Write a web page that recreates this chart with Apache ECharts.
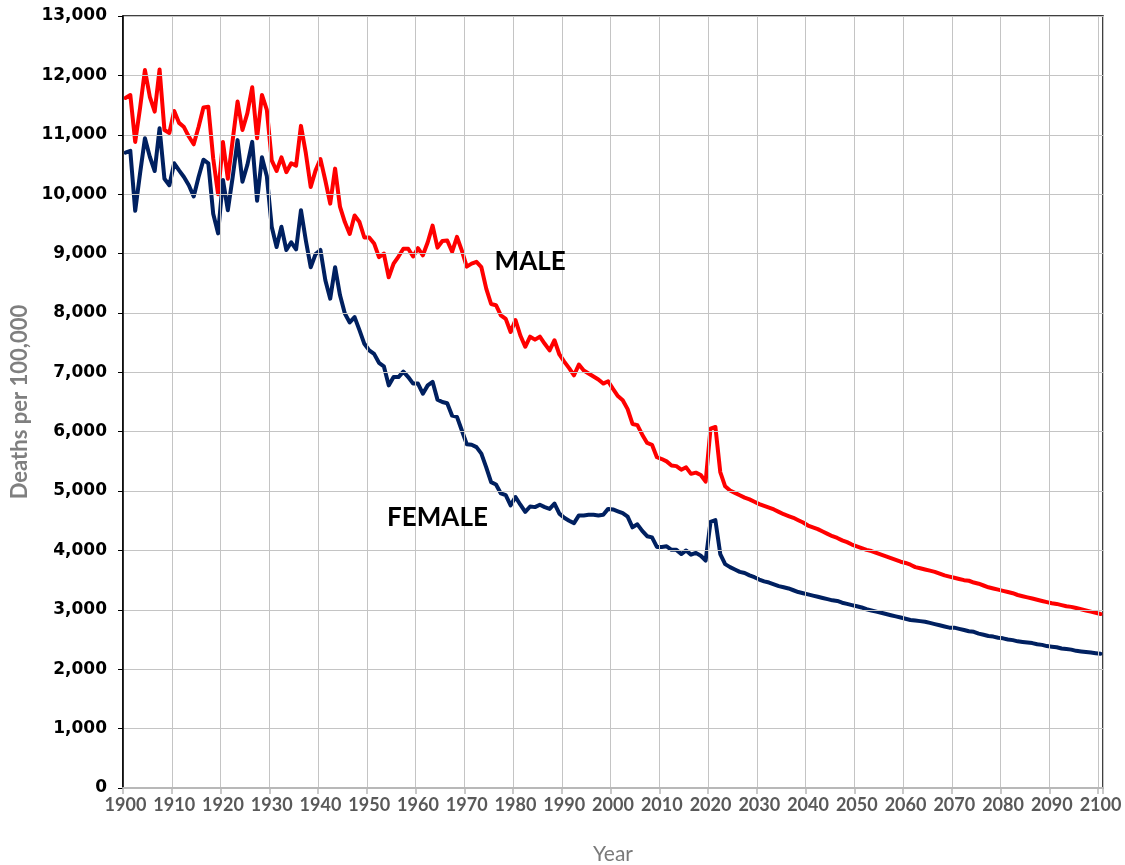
<!DOCTYPE html>
<html>
<head>
<meta charset="utf-8">
<title>Deaths per 100,000 by sex, 1900-2100</title>
<script src="https://cdn.jsdelivr.net/npm/echarts@6/dist/echarts.min.js"></script>
<style>
  html, body { margin: 0; padding: 0; background: #ffffff; }
  #chart { width: 1125px; height: 865px; }
</style>
</head>
<body>
<div id="chart"></div>
<script>
// Year range of the series (one value per calendar year)
const FIRST_YEAR = 1900;
const LAST_YEAR = 2100;

// Male death rate per 100,000, by decade blocks
const male1900s = [11620, 11670, 10880, 11450, 12090, 11640, 11390, 12100, 11080, 11030];
const male1910s = [11400, 11200, 11130, 10970, 10840, 11130, 11460, 11470, 10600, 10000];
const male1920s = [10880, 10260, 10910, 11560, 11080, 11360, 11800, 10940, 11670, 11420];
const male1930s = [10570, 10390, 10620, 10370, 10520, 10480, 11150, 10690, 10120, 10400];
const male1940s = [10590, 10230, 9840, 10430, 9790, 9530, 9330, 9640, 9530, 9270];
const male1950s = [9270, 9170, 8940, 9000, 8600, 8830, 8950, 9080, 9080, 8950];
const male1960s = [9090, 8970, 9190, 9470, 9100, 9210, 9220, 9030, 9280, 9050];
const male1970s = [8780, 8830, 8860, 8770, 8410, 8150, 8130, 7960, 7900, 7680];
const male1980s = [7880, 7620, 7430, 7600, 7550, 7600, 7480, 7370, 7540, 7300];
const male1990s = [7180, 7070, 6950, 7130, 7030, 6980, 6930, 6880, 6810, 6850];
const male2000s = [6720, 6600, 6530, 6380, 6130, 6110, 5950, 5810, 5780, 5570];
const male2010s = [5540, 5500, 5430, 5420, 5360, 5400, 5290, 5310, 5270, 5160];
const male2020s = [6050, 6080, 5320, 5080, 5010, 4970, 4930, 4890, 4860, 4820];
const male2030s = [4780, 4750, 4720, 4690, 4650, 4610, 4580, 4550, 4510, 4470];
const male2040s = [4420, 4390, 4360, 4320, 4280, 4240, 4210, 4170, 4140, 4100];
const male2050s = [4070, 4040, 4010, 3990, 3960, 3930, 3900, 3870, 3840, 3810];
const male2060s = [3790, 3760, 3720, 3700, 3680, 3660, 3640, 3610, 3580, 3560];
const male2070s = [3540, 3520, 3500, 3490, 3460, 3440, 3410, 3380, 3360, 3340];
const male2080s = [3320, 3300, 3280, 3250, 3230, 3210, 3190, 3170, 3150, 3130];
const male2090s = [3110, 3100, 3080, 3060, 3050, 3030, 3010, 2990, 2970, 2950];
const male2100 = [2930];

// Female death rate per 100,000, by decade blocks
const female1900s = [10700, 10730, 9720, 10350, 10940, 10630, 10390, 11110, 10260, 10150];
const female1910s = [10520, 10400, 10290, 10150, 9960, 10290, 10580, 10520, 9670, 9340];
const female1920s = [10240, 9730, 10290, 10910, 10210, 10490, 10880, 9890, 10620, 10300];
const female1930s = [9450, 9110, 9450, 9060, 9190, 9070, 9730, 9220, 8770, 8990];
const female1940s = [9060, 8550, 8240, 8770, 8300, 7990, 7840, 7930, 7710, 7480];
const female1950s = [7370, 7310, 7160, 7100, 6780, 6920, 6920, 7010, 6920, 6810];
const female1960s = [6810, 6640, 6780, 6840, 6540, 6500, 6480, 6270, 6250, 6020];
const female1970s = [5790, 5780, 5740, 5630, 5400, 5150, 5110, 4960, 4930, 4760];
const female1980s = [4900, 4770, 4650, 4740, 4730, 4770, 4730, 4700, 4790, 4620];
const female1990s = [4550, 4500, 4460, 4590, 4590, 4600, 4600, 4590, 4600, 4700];
const female2000s = [4690, 4660, 4630, 4570, 4390, 4440, 4330, 4240, 4220, 4060];
const female2010s = [4060, 4070, 4010, 4010, 3940, 4000, 3930, 3960, 3910, 3830];
const female2020s = [4480, 4510, 3940, 3770, 3720, 3680, 3640, 3620, 3580, 3550];
const female2030s = [3510, 3480, 3460, 3430, 3400, 3380, 3360, 3330, 3300, 3280];
const female2040s = [3260, 3240, 3220, 3200, 3180, 3160, 3150, 3120, 3100, 3080];
const female2050s = [3060, 3040, 3010, 2990, 2970, 2950, 2930, 2910, 2890, 2870];
const female2060s = [2850, 2830, 2820, 2810, 2800, 2780, 2760, 2740, 2720, 2700];
const female2070s = [2700, 2680, 2660, 2640, 2630, 2600, 2580, 2560, 2550, 2530];
const female2080s = [2520, 2500, 2490, 2470, 2460, 2450, 2440, 2420, 2410, 2390];
const female2090s = [2380, 2370, 2350, 2340, 2330, 2310, 2300, 2290, 2280, 2270];
const female2100 = [2260];

// In-chart series labels with their anchor (year, value)
const maleLabel = { text: 'MALE', year: '1983', value: 8860 };
const femaleLabel = { text: 'FEMALE', year: '1964', value: 4550 };

// Axis settings
const yMin = 0;
const yMax = 13000;
const yStep = 1000;
const yearStep = 10;

const years = [];
for (let y = FIRST_YEAR; y <= LAST_YEAR; y++) years.push(String(y));

const maleValues = [].concat(male1900s, male1910s, male1920s, male1930s, male1940s,
  male1950s, male1960s, male1970s, male1980s, male1990s, male2000s, male2010s,
  male2020s, male2030s, male2040s, male2050s, male2060s, male2070s, male2080s,
  male2090s, male2100);
const femaleValues = [].concat(female1900s, female1910s, female1920s, female1930s,
  female1940s, female1950s, female1960s, female1970s, female1980s, female1990s,
  female2000s, female2010s, female2020s, female2030s, female2040s, female2050s,
  female2060s, female2070s, female2080s, female2090s, female2100);

const chart = echarts.init(document.getElementById('chart'), null, { renderer: 'canvas' });

const gridColor = '#c4c4c4';
const labelFont = 'Lato, "Open Sans", sans-serif';

function seriesLabel(item) {
  return {
    symbol: 'circle',
    symbolSize: 1,
    silent: true,
    itemStyle: { color: 'rgba(0,0,0,0)' },
    label: {
      show: true,
      position: 'inside',
      color: '#000000',
      fontFamily: labelFont,
      fontWeight: 'bold',
      fontSize: 26
    },
    data: [{ coord: [item.year, item.value], label: { formatter: item.text } }]
  };
}

const option = {
  backgroundColor: '#ffffff',
  animation: false,
  grid: {
    left: 123,
    right: 22,
    top: 16,
    bottom: 77,
    containLabel: false,
    outerBoundsMode: 'none',
    show: true,
    borderColor: '#000000',
    borderWidth: 1.5,
    backgroundColor: 'transparent',
    z: 0
  },
  xAxis: {
    type: 'category',
    data: years,
    boundaryGap: true,
    z: 5,
    name: 'Year',
    nameLocation: 'middle',
    nameGap: 56,
    nameTextStyle: { fontFamily: labelFont, fontSize: 21, color: '#7a7a7a' },
    axisLine: { show: true, lineStyle: { color: '#b8b8b8', width: 2 } },
    axisTick: { show: true, interval: yearStep - 1, length: 6, lineStyle: { color: '#b8b8b8', width: 1.5 } },
    axisLabel: {
      interval: yearStep - 1,
      margin: 8,
      fontFamily: labelFont,
      fontWeight: 'bold',
      fontSize: 18,
      color: '#595959'
    },
    splitLine: { show: true, interval: yearStep - 1, lineStyle: { color: gridColor, width: 1 } }
  },
  yAxis: {
    type: 'value',
    min: yMin,
    max: yMax,
    interval: yStep,
    z: 5,
    name: 'Deaths per 100,000',
    nameLocation: 'middle',
    nameGap: 82,
    nameTextStyle: { fontFamily: labelFont, fontWeight: 'bold', fontSize: 22, color: '#7f7f7f' },
    axisLine: { show: true, lineStyle: { color: '#000000', width: 1.5 } },
    axisTick: { show: true, length: 5, lineStyle: { color: '#000000', width: 1 } },
    axisLabel: {
      margin: 16,
      fontFamily: '"DejaVu Sans", Verdana, sans-serif',
      fontWeight: 'bold',
      fontSize: 17,
      color: '#000000',
      formatter: function (v) { return v.toLocaleString('en-US'); }
    },
    splitLine: { show: true, lineStyle: { color: gridColor, width: 1 } }
  },
  series: [
    {
      name: 'MALE',
      type: 'line',
      data: maleValues,
      showSymbol: false,
      symbol: 'none',
      smooth: false,
      z: 3,
      lineStyle: { color: '#ff0000', width: 4, join: 'round', cap: 'round' },
      markPoint: seriesLabel(maleLabel)
    },
    {
      name: 'FEMALE',
      type: 'line',
      data: femaleValues,
      showSymbol: false,
      symbol: 'none',
      smooth: false,
      z: 4,
      lineStyle: { color: '#002060', width: 4, join: 'round', cap: 'round' },
      markPoint: seriesLabel(femaleLabel)
    }
  ]
};

chart.setOption(option);
</script>
</body>
</html>
